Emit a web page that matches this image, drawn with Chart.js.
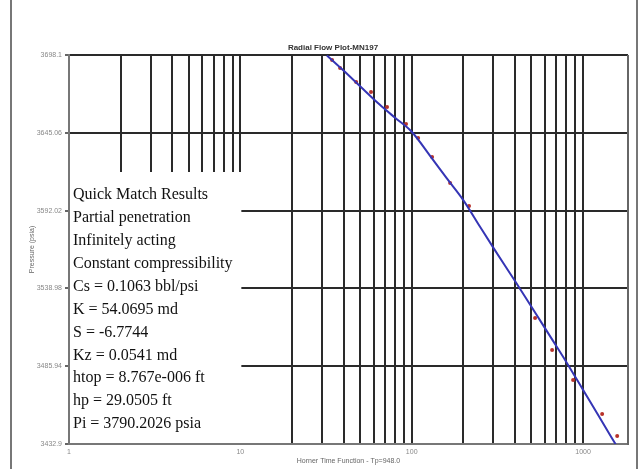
<!DOCTYPE html>
<html>
<head>
<meta charset="utf-8">
<script src="https://cdn.jsdelivr.net/npm/chart.js@4/dist/chart.umd.min.js"></script>
<style>
  body { margin: 0; background: #fff; }
  #wrap { position: relative; width: 643px; height: 469px; }
</style>
</head>
<body>
<div id="wrap"><canvas id="chart" width="643" height="469"></canvas></div>
<script>
// measured points (Horner time function, pressure psia)
var hornerTime = [34.3, 38.2, 47.4, 57.9, 71.8, 92.7, 109, 131.5, 167.6, 216, 525, 660, 875, 1293, 1582];
var pressure = [3694.7, 3689.2, 3679.7, 3672.9, 3662.7, 3651.1, 3641.5, 3628.6, 3610.9, 3595.2, 3518.8, 3497.0, 3476.5, 3453.4, 3438.4];

// quick match model curve
var modelTime = [32, 40, 50, 65, 80, 100, 130, 160, 200, 250, 300, 400, 500, 650, 800, 1000, 1250, 1550];
var modelPressure = [3697.8, 3687.5, 3676.8, 3664.3, 3655.3, 3645.8, 3628.3, 3614.1, 3599.2, 3581.2, 3566.6, 3544.2, 3526.5, 3505.4, 3488.7, 3469.8, 3450.9, 3432.7];

var yTicks = [3432.9, 3485.94, 3538.98, 3592.02, 3645.06, 3698.1];
var xGridTicks = [1,2,3,4,5,6,7,8,9,10,20,30,40,50,60,70,80,90,100,200,300,400,500,600,700,800,900,1000];
var xLabelTicks = [1, 10, 100, 1000];

var matchLines = [
  'Quick Match Results',
  'Partial penetration',
  'Infinitely acting',
  'Constant compressibility',
  'Cs = 0.1063 bbl/psi',
  'K = 54.0695 md',
  'S = -6.7744',
  'Kz = 0.0541 md',
  'htop = 8.767e-006 ft',
  'hp = 29.0505 ft',
  'Pi = 3790.2026 psia'
];

function toXY(xs, ys){
  var out = [];
  for (var i = 0; i < xs.length; i++) out.push({x: xs[i], y: ys[i]});
  return out;
}

var extras = {
  id: 'extras',
  beforeDatasetsDraw: function(chart){
    var ctx = chart.ctx, a = chart.chartArea;
    var boxRight = chart.scales.x.getPixelForValue(10) + 1;
    ctx.save();
    // results box over the first decade
    ctx.fillStyle = '#fff';
    ctx.fillRect(a.left + 1, 172, boxRight - a.left - 1, a.bottom - 1 - 172);
    ctx.fillStyle = '#111';
    ctx.font = '16px "Liberation Serif"';
    ctx.textBaseline = 'middle';
    ctx.textAlign = 'left';
    for (var i = 0; i < matchLines.length; i++) {
      ctx.fillText(matchLines[i], 73, 195 + i * 22.9);
    }
    // right border of plot
    ctx.strokeStyle = '#666';
    ctx.lineWidth = 2;
    ctx.beginPath();
    ctx.moveTo(a.right, a.top);
    ctx.lineTo(a.right, a.bottom + 1);
    ctx.stroke();
    ctx.restore();
  },
  afterDraw: function(chart){
    var ctx = chart.ctx;
    ctx.save();
    ctx.fillStyle = '#333';
    ctx.font = 'bold 8px "Liberation Sans"';
    ctx.textAlign = 'center';
    ctx.textBaseline = 'middle';
    ctx.fillText('Radial Flow Plot-MN197', 333, 48);
    // page frame
    ctx.strokeStyle = '#777';
    ctx.lineWidth = 2;
    ctx.beginPath();
    ctx.moveTo(11, 0); ctx.lineTo(11, 469);
    ctx.moveTo(637, 0); ctx.lineTo(637, 469);
    ctx.stroke();
    ctx.restore();
  }
};

var canvas = document.getElementById('chart').getContext('2d');
window.radial = new Chart(canvas, {
  type: 'scatter',
  data: {
    datasets: [{
      label: 'Model',
      data: toXY(modelTime, modelPressure),
      showLine: true,
      borderColor: '#3535b5',
      borderWidth: 2,
      pointRadius: 0,
      cubicInterpolationMode: 'monotone',
      fill: false
    },
    {
      label: 'Data',
      data: toXY(hornerTime, pressure),
      showLine: false,
      pointRadius: 2,
      pointBorderWidth: 0,
      backgroundColor: '#b8322a'
    }]
  },
  options: {
    responsive: false,
    animation: false,
    layout: { padding: { left: 0, right: 15, top: 55, bottom: 0 } },
    plugins: {
      legend: { display: false },
      tooltip: { enabled: false },
      title: { display: false }
    },
    scales: {
      x: {
        type: 'logarithmic',
        min: 1,
        max: 1830,
        afterBuildTicks: function(scale){
          scale.ticks = xGridTicks.map(function(v){ return {value: v}; });
        },
        afterFit: function(scale){ scale.height = 25; },
        grid: { color: '#2a2a2a', lineWidth: 2, drawTicks: false },
        border: { color: '#777', width: 2 },
        ticks: {
          autoSkip: false,
          maxRotation: 0,
          padding: 4,
          color: '#888',
          font: { family: 'Liberation Sans', size: 7 },
          callback: function(v){ return xLabelTicks.indexOf(v) >= 0 ? String(v) : ''; }
        },
        title: {
          display: true,
          text: 'Horner Time Function - Tp=948.0',
          color: '#666',
          font: { family: 'Liberation Sans', size: 7 },
          padding: { top: 0, bottom: 4 }
        }
      },
      y: {
        min: 3432.9,
        max: 3698.1,
        afterBuildTicks: function(scale){
          scale.ticks = yTicks.map(function(v){ return {value: v}; });
        },
        afterFit: function(scale){ scale.width = 69; },
        grid: { color: '#2a2a2a', lineWidth: 2, tickLength: 4, tickColor: '#666' },
        border: { color: '#777', width: 2 },
        ticks: {
          padding: 3,
          color: '#888',
          font: { family: 'Liberation Sans', size: 7 },
          callback: function(v){ return String(v); }
        },
        title: {
          display: true,
          text: 'Pressure (psia)',
          color: '#666',
          font: { family: 'Liberation Sans', size: 7 },
          padding: { top: 28, bottom: 0 }
        }
      }
    }
  },
  plugins: [extras]
});
</script>
</body>
</html>
